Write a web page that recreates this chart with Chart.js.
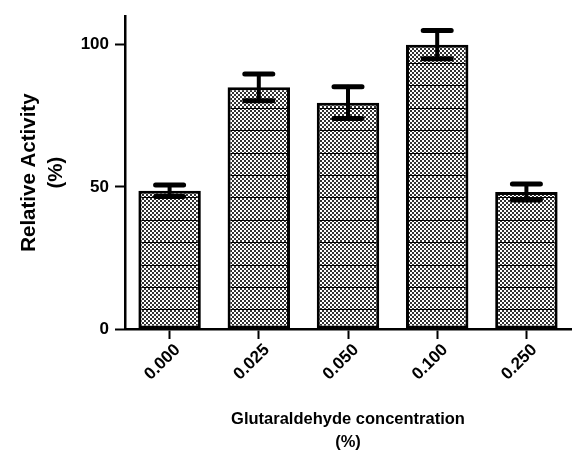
<!DOCTYPE html>
<html>
<head>
<meta charset="utf-8">
<script src="https://cdn.jsdelivr.net/npm/chart.js@4"></script>
<style>
  body { margin: 0; background: #fff; }
  canvas { display: block; }
</style>
</head>
<body>
<canvas id="activityChart" width="572" height="456"></canvas>
<script>
// data
const concentrations = ['0.000', '0.025', '0.050', '0.100', '0.250'];
const activity = [48.6, 85, 79.6, 100, 48.2];
const activityErr = [2, 4.7, 5.6, 5, 2.8];
const yTicks = [0, 50, 100];

// checker + horizontal stripe fill like the printed figure
function makeHatch() {
    const c = document.createElement('canvas');
    c.width = 4;
    c.height = 112;
    const g = c.getContext('2d');
    g.fillStyle = '#fff';
    g.fillRect(0, 0, 4, 112);
    g.fillStyle = '#333';
    for (let y = 0; y < 112; y += 2) {
        for (let x = 0; x < 4; x += 2) {
            if (((x + y) / 2) % 2 === 0) g.fillRect(x, y, 2, 2);
        }
    }
    g.fillStyle = '#000';
    [18, 41, 63, 85, 108].forEach(function (r) {
        g.fillRect(0, r, 4, 1);
    });
    return g.createPattern(c, 'repeat');
}

const errorBars = {
    id: 'errorBars',
    afterDatasetsDraw(chart) {
        const meta = chart.getDatasetMeta(0);
        const y = chart.scales.y;
        const ctx = chart.ctx;
        ctx.save();
        ctx.strokeStyle = '#000';
        ctx.lineCap = 'round';
        meta.data.forEach(function (bar, i) {
            const hi = y.getPixelForValue(activity[i] + activityErr[i]);
            const lo = y.getPixelForValue(activity[i] - activityErr[i]);
            ctx.lineWidth = 4;
            ctx.beginPath();
            ctx.moveTo(bar.x, hi);
            ctx.lineTo(bar.x, lo);
            ctx.stroke();
            ctx.lineWidth = 5;
            ctx.beginPath();
            ctx.moveTo(bar.x - 14, hi);
            ctx.lineTo(bar.x + 14, hi);
            ctx.moveTo(bar.x - 14, lo);
            ctx.lineTo(bar.x + 14, lo);
            ctx.stroke();
        });
        ctx.restore();
    }
};

document.addEventListener('DOMContentLoaded', function () {
    const ctx = document.getElementById('activityChart').getContext('2d');
    const font = 'Liberation Sans, Arial, sans-serif';

    new Chart(ctx, {
        type: 'bar',
        data: {
            labels: concentrations,
            datasets: [{
                data: activity,
                backgroundColor: makeHatch(),
                borderColor: '#000',
                borderWidth: 3,
                borderSkipped: false,
                barPercentage: 0.7,
                categoryPercentage: 1
            }]
        },
        options: {
            responsive: false,
            animation: false,
            layout: { padding: { top: 14, right: 1, left: 0, bottom: 0 } },
            plugins: { legend: { display: false }, tooltip: { enabled: false } },
            scales: {
                x: {
                    afterFit: function (s) { s.height = 127; },
                    grid: {
                        offset: false,
                        drawOnChartArea: false,
                        tickLength: 10,
                        tickWidth: 2,
                        tickColor: '#000'
                    },
                    border: { color: '#000', width: 2.5 },
                    ticks: {
                        minRotation: 45,
                        maxRotation: 45,
                        color: '#000',
                        padding: 1,
                        labelOffset: 8,
                        font: { family: font, size: 17, weight: 'bold' }
                    },
                    title: {
                        display: true,
                        text: ['Glutaraldehyde concentration', '(%)'],
                        color: '#000',
                        padding: { bottom: 2 },
                        font: { family: font, size: 16.5, weight: 'bold', lineHeight: 1.4 }
                    }
                },
                y: {
                    min: 0,
                    max: 110,
                    afterFit: function (s) { s.width = 125; },
                    afterBuildTicks: function (s) {
                        s.ticks = yTicks.map(function (v) { return { value: v }; });
                    },
                    grid: {
                        drawOnChartArea: false,
                        tickLength: 10,
                        tickWidth: 2,
                        tickColor: '#000'
                    },
                    border: { color: '#000', width: 2.5 },
                    ticks: {
                        color: '#000',
                        padding: 6,
                        font: { family: font, size: 17, weight: 'bold' }
                    },
                    title: {
                        display: true,
                        text: ['Relative Activity', '(%)'],
                        color: '#000',
                        padding: { top: 16 },
                        font: { family: font, size: 20.5, weight: 'bold', lineHeight: 1.3 }
                    }
                }
            }
        },
        plugins: [errorBars]
    });
});
</script>
</body>
</html>
